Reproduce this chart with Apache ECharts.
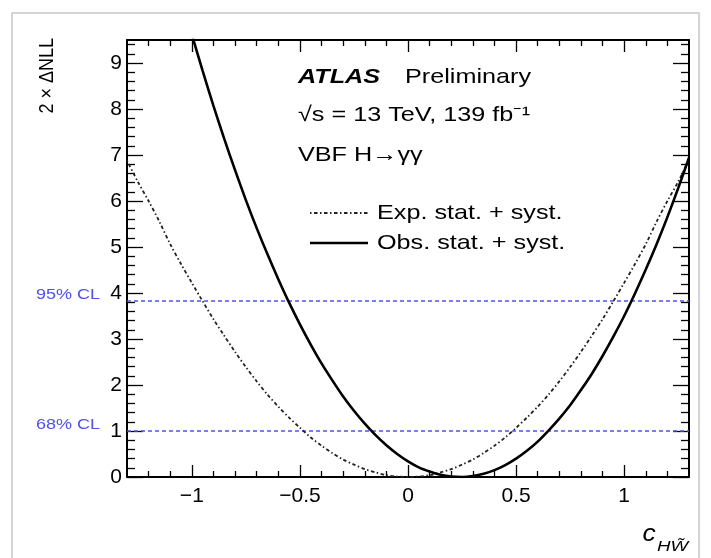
<!DOCTYPE html>
<html>
<head>
<meta charset="utf-8">
<script src="https://cdn.jsdelivr.net/npm/echarts@6/dist/echarts.min.js"></script>
<style>html,body{margin:0;padding:0;background:#fff}#c{width:711px;height:558px}</style>
</head>
<body>
<div id="c"></div>
<script>
// ---------- data ----------
const expX = [-1.30,-1.25,-1.20,-1.15,-1.10,-1.05,-1.00,-0.95,-0.90,-0.85,-0.80,-0.75,-0.70,-0.65,-0.60,-0.55,-0.50,-0.45,-0.40,-0.35,-0.30,-0.25,-0.20,-0.15,-0.10,-0.05,0.00,
  0.05,0.10,0.15,0.20,0.25,0.30,0.35,0.40,0.45,0.50,0.55,0.60,0.65,0.70,0.75,0.80,0.85,0.90,0.95,1.00,1.05,1.10,1.15,1.20,1.25,1.30];
const expY = [6.88,6.42,6.00,5.55,5.06,4.63,4.22,3.82,3.43,3.07,2.72,2.39,2.08,1.79,1.53,1.29,1.07,0.86,0.68,0.52,0.38,0.27,0.17,0.10,0.04,0.01,0.00,
  0.01,0.04,0.10,0.17,0.27,0.38,0.52,0.68,0.86,1.07,1.29,1.53,1.79,2.08,2.39,2.72,3.07,3.43,3.82,4.22,4.63,5.06,5.55,6.00,6.42,6.90];
const obsX = [-1.05,-1.00,-0.95,-0.90,-0.85,-0.80,-0.75,-0.70,-0.65,-0.60,-0.55,-0.50,-0.45,-0.40,-0.35,-0.30,-0.25,-0.20,-0.15,-0.10,-0.05,0.00,
  0.05,0.10,0.15,0.20,0.25,0.30,0.35,0.40,0.45,0.50,0.55,0.60,0.65,0.70,0.75,0.80,0.85,0.90,0.95,1.00,1.05,1.10,1.15,1.20,1.25,1.30];
const obsY = [10.46,9.62,8.83,8.07,7.35,6.67,6.02,5.41,4.84,4.30,3.79,3.32,2.88,2.47,2.10,1.75,1.44,1.16,0.91,0.69,0.50,0.34,
  0.21,0.12,0.05,0.01,0.00,0.02,0.07,0.15,0.26,0.40,0.57,0.77,1.01,1.27,1.56,1.89,2.24,2.63,3.05,3.50,3.99,4.51,5.06,5.65,6.28,6.94];
const seriesNames = ['Exp. stat. + syst.', 'Obs. stat. + syst.'];
const clLevels = [3.84, 1];
const clLabels = ['95% CL', '68% CL'];
const xMajorTicks = [-1, -0.5, 0, 0.5, 1];
const xMinorTicks = [-1.2,-1.1,-0.9,-0.8,-0.7,-0.6,-0.4,-0.3,-0.2,-0.1,0.1,0.2,0.3,0.4,0.6,0.7,0.8,0.9,1.1,1.2];
const yMajorTicks = [0,1,2,3,4,5,6,7,8,9];
const yMinorTicks = [0.2,0.4,0.6,0.8,1.2,1.4,1.6,1.8,2.2,2.4,2.6,2.8,3.2,3.4,3.6,3.8,4.2,4.4,4.6,4.8,
  5.2,5.4,5.6,5.8,6.2,6.4,6.6,6.8,7.2,7.4,7.6,7.8,8.2,8.4,8.6,8.8,9.2,9.4];
const xRange = [-1.3, 1.3];
const yRange = [0, 9.5];
const headerLines = ['ATLAS', 'Preliminary', '\u221As = 13 TeV, 139 fb\u207B\u00B9', 'VBF H\u2192\u03B3\u03B3'];
const yTitle = '2 \u00D7 \u0394NLL';
const xTitleMain = 'c';
const xTitleSub = 'HW\u0303';

// ---------- chart ----------
const FONT = "'Liberation Sans', Arial, Helvetica, sans-serif";
const CL_COLOR = '#5050ee';
const chart = echarts.init(document.getElementById('c'), null, {renderer: 'canvas'});
const fmt = v => String(v).replace('-', '\u2212');

function xAx(pos, major, showLine) {
  return {
    type: 'value', position: pos, min: xRange[0], max: xRange[1],
    axisLine: {show: showLine, onZero: false, lineStyle: {color: '#000', width: 2}},
    axisTick: {show: true, inside: true, length: major ? 12 : 6, customValues: major ? xMajorTicks : xMinorTicks,
      lineStyle: {color: '#000', width: 1.3}},
    axisLabel: (pos === 'bottom' && major) ? {show: true, customValues: xMajorTicks, formatter: fmt,
      color: '#000', fontSize: 21, fontFamily: FONT, margin: 9} : {show: false},
    splitLine: {show: false}
  };
}
function yAx(pos, major, showLine) {
  return {
    type: 'value', position: pos, min: yRange[0], max: yRange[1],
    axisLine: {show: showLine, onZero: false, lineStyle: {color: '#000', width: 2}},
    axisTick: {show: true, inside: true, length: major ? 16 : 8, customValues: major ? yMajorTicks : yMinorTicks,
      lineStyle: {color: '#000', width: 1.3}},
    axisLabel: (pos === 'left' && major) ? {show: true, customValues: yMajorTicks,
      color: '#000', fontSize: 21, fontFamily: FONT, margin: 5} : {show: false},
    splitLine: {show: false}
  };
}

chart.setOption({
  animation: false,
  backgroundColor: '#fff',
  grid: {left: 127, right: 22, top: 40, bottom: 81, containLabel: false},
  xAxis: [xAx('bottom', true, true), xAx('bottom', false, false), xAx('top', true, true), xAx('top', false, false)],
  yAxis: [yAx('left', true, true), yAx('left', false, false), yAx('right', true, true), yAx('right', false, false)],
  series: [
    {
      name: seriesNames[0], type: 'line', xAxisIndex: 0, yAxisIndex: 0,
      data: expX.map((x, i) => [x, expY[i]]),
      showSymbol: false, symbol: 'none', smooth: 0.3, clip: true, z: 3,
      lineStyle: {color: '#222', width: 1.8, type: [1.5, 2.5, 3.5, 2.5]}
    },
    {
      name: seriesNames[1], type: 'line', xAxisIndex: 0, yAxisIndex: 0,
      data: obsX.map((x, i) => [x, obsY[i]]),
      showSymbol: false, symbol: 'none', smooth: 0.3, clip: true, z: 4,
      lineStyle: {color: '#000', width: 2.6},
      markLine: {
        silent: true, symbol: ['none', 'none'], label: {show: false}, z: 2,
        lineStyle: {color: CL_COLOR, width: 1.5, type: [4, 3], opacity: 1},
        data: clLevels.map(v => ({yAxis: v, lineStyle: {color: CL_COLOR, width: 1.5, type: [4, 3]}}))
      }
    }
  ]
});

// ---------- annotations ----------
function txt(s, x, y, o) {
  o = o || {};
  return {
    type: 'text', x: x, y: y, scaleX: o.sx || 1.2, scaleY: o.sy || 1, rotation: o.rot || 0, silent: true, z: 10,
    style: {text: s, fill: o.color || '#000', fontSize: o.size || 21, fontFamily: FONT,
      fontWeight: o.weight || 'normal', fontStyle: o.style || 'normal',
      align: o.align || 'left', verticalAlign: 'middle'}
  };
}
const g = [];
g.push({type: 'rect', shape: {x: 12, y: 13, width: 687, height: 560}, silent: true, z: -10,
  style: {fill: 'none', stroke: '#c8c8c8', lineWidth: 1.5}});
g.push(txt(headerLines[0], 298, 77, {weight: 'bold', style: 'italic'}));
g.push(txt(headerLines[1], 405, 77));
g.push(txt(headerLines[2], 298, 115));
g.push(txt(headerLines[3], 298, 155));
// legend
g.push({type: 'line', shape: {x1: 310, y1: 213, x2: 368, y2: 213}, silent: true, z: 10,
  style: {stroke: '#222', lineWidth: 1.8, lineDash: [1.5, 2.5, 3.5, 2.5]}});
g.push(txt(seriesNames[0], 377, 213));
g.push({type: 'line', shape: {x1: 310, y1: 243, x2: 368, y2: 243}, silent: true, z: 10,
  style: {stroke: '#000', lineWidth: 2.6}});
g.push(txt(seriesNames[1], 377, 243));
// CL labels next to their lines
clLevels.forEach((v, i) => {
  const py = chart.convertToPixel({yAxisIndex: 0}, v);
  g.push(txt(clLabels[i], 100, py - 6, {size: 15, align: 'right', color: CL_COLOR}));
});
// axis titles
g.push(txt(yTitle, 47, 38, {size: 18, rot: Math.PI / 2, align: 'right', sx: 1, sy: 1.15}));
g.push(txt(xTitleMain, 649, 534, {size: 24, style: 'italic', align: 'center', sx: 1.1}));
g.push(txt(xTitleSub, 657, 547, {size: 15, style: 'italic', sx: 1.25}));
chart.setOption({graphic: g});
</script>
</body>
</html>
